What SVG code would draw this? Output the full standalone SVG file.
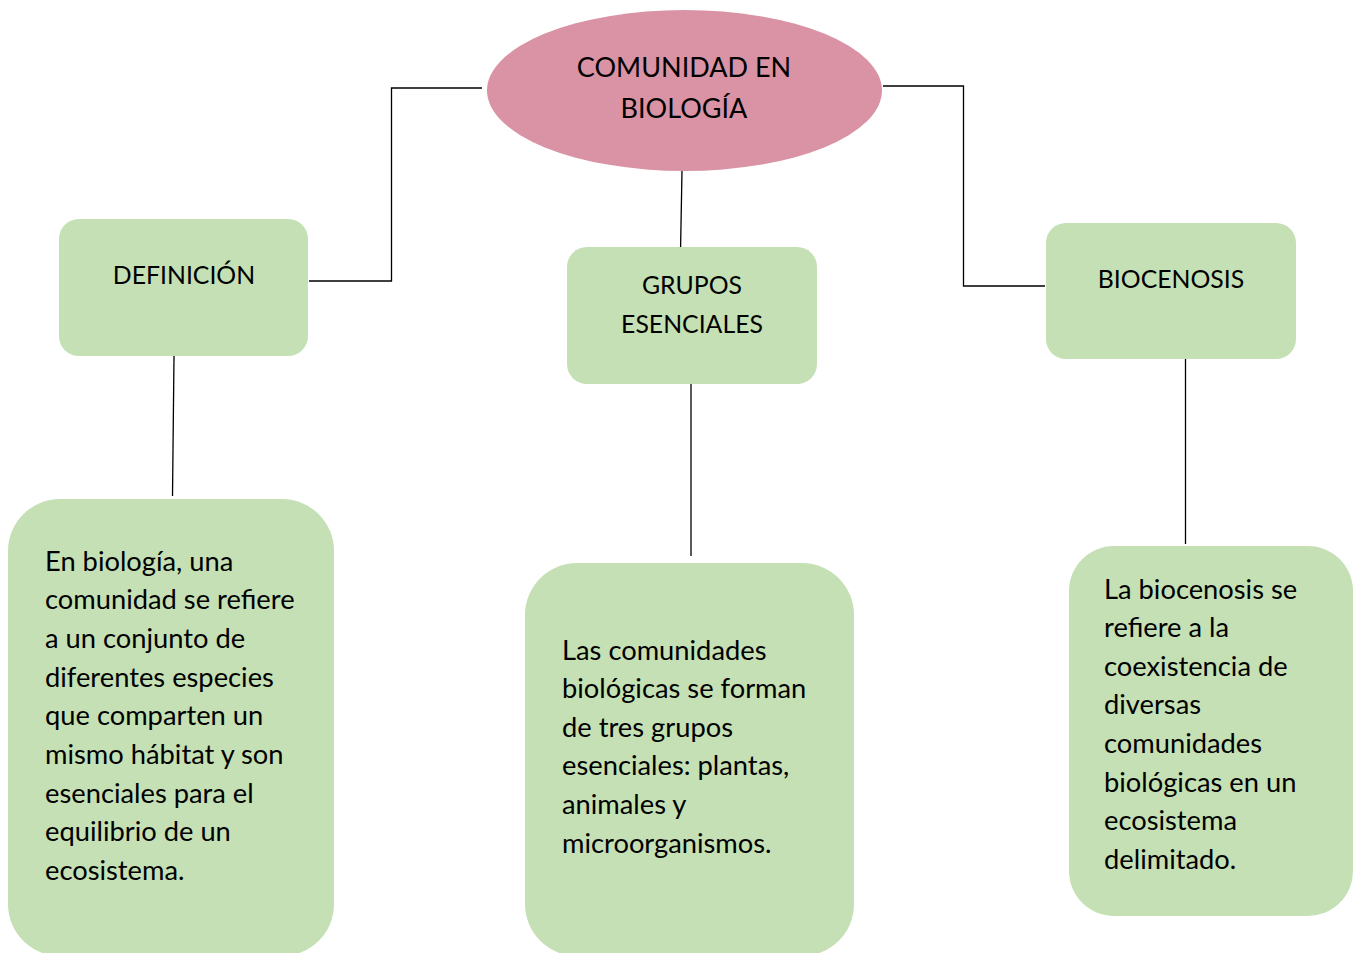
<svg xmlns="http://www.w3.org/2000/svg" width="1354" height="953" viewBox="0 0 1354 953">
<style>
.box{fill:#c5e0b4;}
.ell{fill:#d993a4;}
.con{fill:none;stroke:#000;stroke-width:1.3;}
text{font-family:Lato,"Open Sans","Liberation Sans",sans-serif;fill:#000;}
.t{font-size:27.3px;}
.c{text-anchor:middle;}
.h{font-size:27px;}
.l{font-size:24.8px;}
</style>
<rect width="1354" height="953" fill="#fff"/>
<g id="connectors">
<polyline class="con" points="482,88 391.5,88 391.5,281 309,281"/>
<polyline class="con" points="883,86 963.5,86 963.5,286 1045,286"/>
<line class="con" x1="682" y1="171" x2="680.5" y2="252"/>
<line class="con" x1="174" y1="356" x2="172.5" y2="496"/>
<line class="con" x1="691" y1="384" x2="691" y2="556"/>
<line class="con" x1="1185.5" y1="359" x2="1185.5" y2="544"/>
</g>
<g id="comunidad">
<ellipse class="ell" cx="684.5" cy="90.5" rx="197.5" ry="80.5"/>
<text class="h c" x="684" y="77">COMUNIDAD EN</text>
<text class="h c" x="684" y="118">BIOLOGÍA</text>
</g>
<g id="definicion">
<rect class="box" x="59" y="219" width="249" height="137" rx="20"/>
<text class="l c" x="184" y="284">DEFINICIÓN</text>
</g>
<g id="grupos">
<rect class="box" x="567" y="247" width="250" height="137" rx="20"/>
<text class="l c" x="692" y="294">GRUPOS</text>
<text class="l c" x="692" y="333">ESENCIALES</text>
</g>
<g id="biocenosis">
<rect class="box" x="1046" y="223" width="250" height="136" rx="20"/>
<text class="l c" x="1171" y="288">BIOCENOSIS</text>
</g>
<g id="def-texto">
<rect class="box" x="8" y="499" width="326" height="457" rx="52"/>
<text class="t" x="45" y="571">En biología, una</text>
<text class="t" x="45" y="609">comunidad se refiere</text>
<text class="t" x="45" y="648">a un conjunto de</text>
<text class="t" x="45" y="687">diferentes especies</text>
<text class="t" x="45" y="725">que comparten un</text>
<text class="t" x="45" y="764">mismo hábitat y son</text>
<text class="t" x="45" y="803">esenciales para el</text>
<text class="t" x="45" y="841">equilibrio de un</text>
<text class="t" x="45" y="880">ecosistema.</text>
</g>
<g id="grupos-texto">
<rect class="box" x="525" y="563" width="329" height="393" rx="52"/>
<text class="t" x="562" y="660">Las comunidades</text>
<text class="t" x="562" y="698">biológicas se forman</text>
<text class="t" x="562" y="737">de tres grupos</text>
<text class="t" x="562" y="775">esenciales: plantas,</text>
<text class="t" x="562" y="814">animales y</text>
<text class="t" x="562" y="853">microorganismos.</text>
</g>
<g id="bio-texto">
<rect class="box" x="1069" y="546" width="284" height="370" rx="45"/>
<text class="t" x="1104" y="599">La biocenosis se</text>
<text class="t" x="1104" y="637">refiere a la</text>
<text class="t" x="1104" y="676">coexistencia de</text>
<text class="t" x="1104" y="714">diversas</text>
<text class="t" x="1104" y="753">comunidades</text>
<text class="t" x="1104" y="792">biológicas en un</text>
<text class="t" x="1104" y="830">ecosistema</text>
<text class="t" x="1104" y="869">delimitado.</text>
</g>
</svg>
